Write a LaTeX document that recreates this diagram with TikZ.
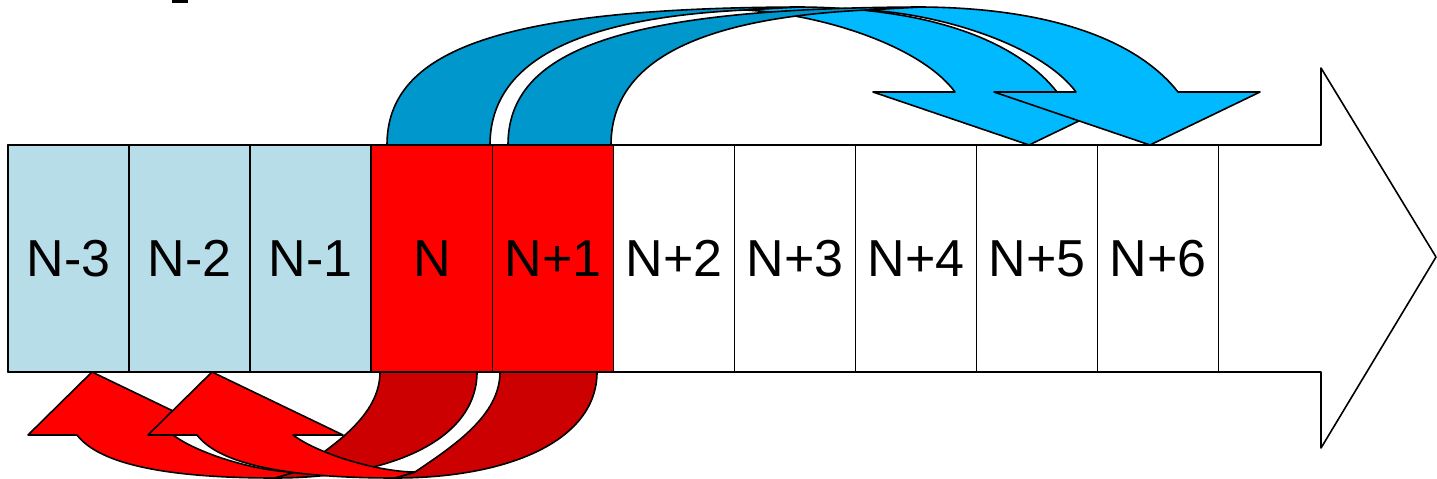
\documentclass[tikz,border=0pt]{standalone}
\usepackage{fontspec}
\setmainfont{Liberation Sans}
\definecolor{cellblue}{HTML}{B7DEE8}
\definecolor{bluefront}{HTML}{00B9FF}
\definecolor{blueback}{HTML}{0097CC}
\definecolor{redfront}{HTML}{FF0000}
\definecolor{redback}{HTML}{CC0000}
\begin{document}
\begin{tikzpicture}[x=1pt,y=-1pt,
  outl/.style={draw=black,line width=1.6pt,line join=round},
  cell/.style={outl,minimum width=121pt,minimum height=227pt,inner sep=0pt,
    font=\fontsize{52}{58}\selectfont,text=black},
  oldcell/.style={cell,fill=cellblue},
  curcell/.style={cell,fill=redfront},
  newcell/.style={cell,fill=white}]
\useasboundingbox (0,0) rectangle (1437,479);
% stray mark at the top
\fill[black] (172,0) rectangle (188,2.5);
% big timeline arrow
\draw[outl,fill=white] (8,145) -- (1321,145) -- (1321,68) -- (1436,257)
  -- (1321,448) -- (1321,372) -- (8,372) -- cycle;
% cells
\node[oldcell] (c1) at (68.5,258.5) {N-3};
\node[oldcell] (c2) at (189.5,258.5) {N-2};
\node[oldcell] (c3) at (310.5,258.5) {N-1};
\node[curcell] (c4) at (432,258.5) {N};
\node[curcell] (c5) at (553,258.5) {N+1};
\node[newcell] (c6) at (674,258.5) {N+2};
\node[newcell] (c7) at (795,258.5) {N+3};
\node[newcell] (c8) at (916,258.5) {N+4};
\node[newcell] (c9) at (1037,258.5) {N+5};
\node[newcell] (c10) at (1158,258.5) {N+6};
% blue curved arrows (forward)
\foreach \dx in {0,121}{
\begin{scope}[xshift=\dx pt]
\draw[outl,fill=blueback] (387,145) .. controls (387,50) and (500,8) .. (800,7)
  -- (745,10) .. controls (580,18) and (490,60) .. (490,145) -- cycle;
\draw[outl,fill=bluefront] (745,10) .. controls (820,14) and (920,45) .. (955,92)
  -- (873,92) -- (1029,145) -- (1139,92) -- (1057,92)
  .. controls (1020,45) and (940,8) .. (800,7) -- cycle;
\end{scope}}
% red curved arrows (backward)
\foreach \dx in {0,120}{
\begin{scope}[xshift=\dx pt]
\draw[outl,fill=redback] (477,372) .. controls (477,440) and (390,478) .. (275,478)
  -- (295,472) .. controls (335,445) and (380,415) .. (380,372) -- cycle;
\draw[outl,fill=redfront] (295,472) .. controls (260,472) and (200,455) .. (173,435)
  -- (223,435) -- (92,372) -- (28,435) -- (77,435)
  .. controls (100,465) and (170,478) .. (275,478) -- cycle;
\end{scope}}
\end{tikzpicture}
\end{document}
